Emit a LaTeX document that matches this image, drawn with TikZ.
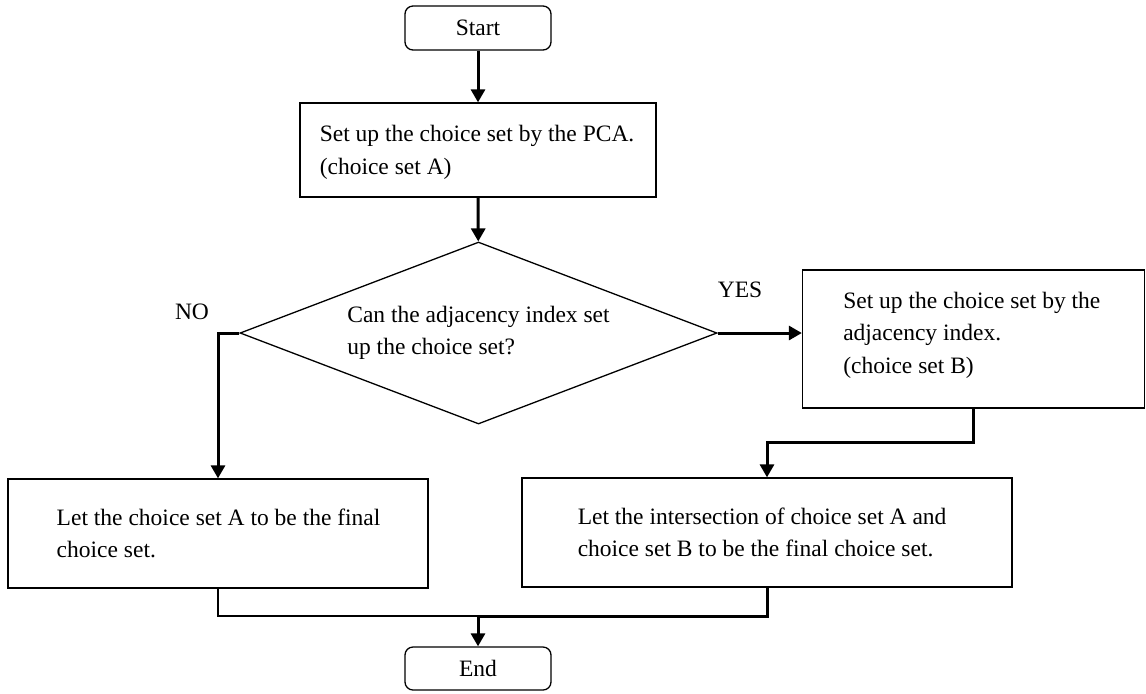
\documentclass[tikz,border=0pt]{standalone}
\usepackage{fontspec}
\setmainfont{Liberation Serif}
\usetikzlibrary{shapes.geometric,arrows.meta}
\begin{document}
\begin{tikzpicture}
[x=0.5pt, y=-0.5pt,
 font=\fontsize{11.75}{16.25}\selectfont,
 box/.style={draw, line width=0.65pt, inner sep=0pt},
 term/.style={box, rounded corners=4pt, minimum width=73pt, minimum height=22pt},
 txt/.style={align=left, anchor=west, inner sep=0pt},
 flow/.style={line width=1.5pt, -{Triangle[length=6.5pt,width=7pt]}},
 joinline/.style={line width=0.75pt}]
\useasboundingbox (0,0) rectangle (1146,693);
\node[term] (start) at (478,28) {Start};
\node[box, minimum width=178pt, minimum height=47pt] (pca) at (478,150) {};
\node[txt] (pcatext) at ([xshift=10pt, yshift=-1.2pt]pca.west)
  {Set up the choice set by the PCA.\\(choice set A)};
\node[box, diamond, aspect=2.62, minimum width=238.5pt, minimum height=91pt,
      align=left] (adjq) at (478.5,333)
  {Can the adjacency index set\\up the choice set?};
\node[box, minimum width=171pt, minimum height=69pt] (adjset) at (973.5,339) {};
\node[txt] (adjsettext) at ([xshift=20.5pt, yshift=2pt]adjset.west)
  {Set up the choice set by the\\adjacency index.\\(choice set B)};
\node[box, minimum width=210pt, minimum height=54.5pt] (finalA) at (218,533.5) {};
\node[txt] (finalAtext) at ([xshift=24.5pt]finalA.west)
  {Let the choice set A to be the final\\choice set.};
\node[box, minimum width=245pt, minimum height=54.5pt] (finalAB) at (767,532.5) {};
\node[txt] (finalABtext) at ([xshift=28pt]finalAB.west)
  {Let the intersection of choice set A and\\choice set B to be the final choice set.};
\node[term, minimum height=21.5pt] (end) at (478,668.5) {End};
\node (no) at (192,312) {NO};
\node (yes) at (740,290) {YES};
\coordinate (merge) at (478,616);
\draw[flow] (start) -- (pca);
\draw[flow] (pca) -- (adjq);
\draw[flow] (adjq.west) -| (finalA.north);
\draw[flow] (adjq.east) -- (adjq.east -| adjset.west);
\draw[flow] (adjset.south) -- ++(0,34) -| (finalAB.north);
\draw[joinline] (finalA.south) |- (merge);
\draw[flow] (finalAB.south) |- (merge) -- (end);
\end{tikzpicture}
\end{document}
